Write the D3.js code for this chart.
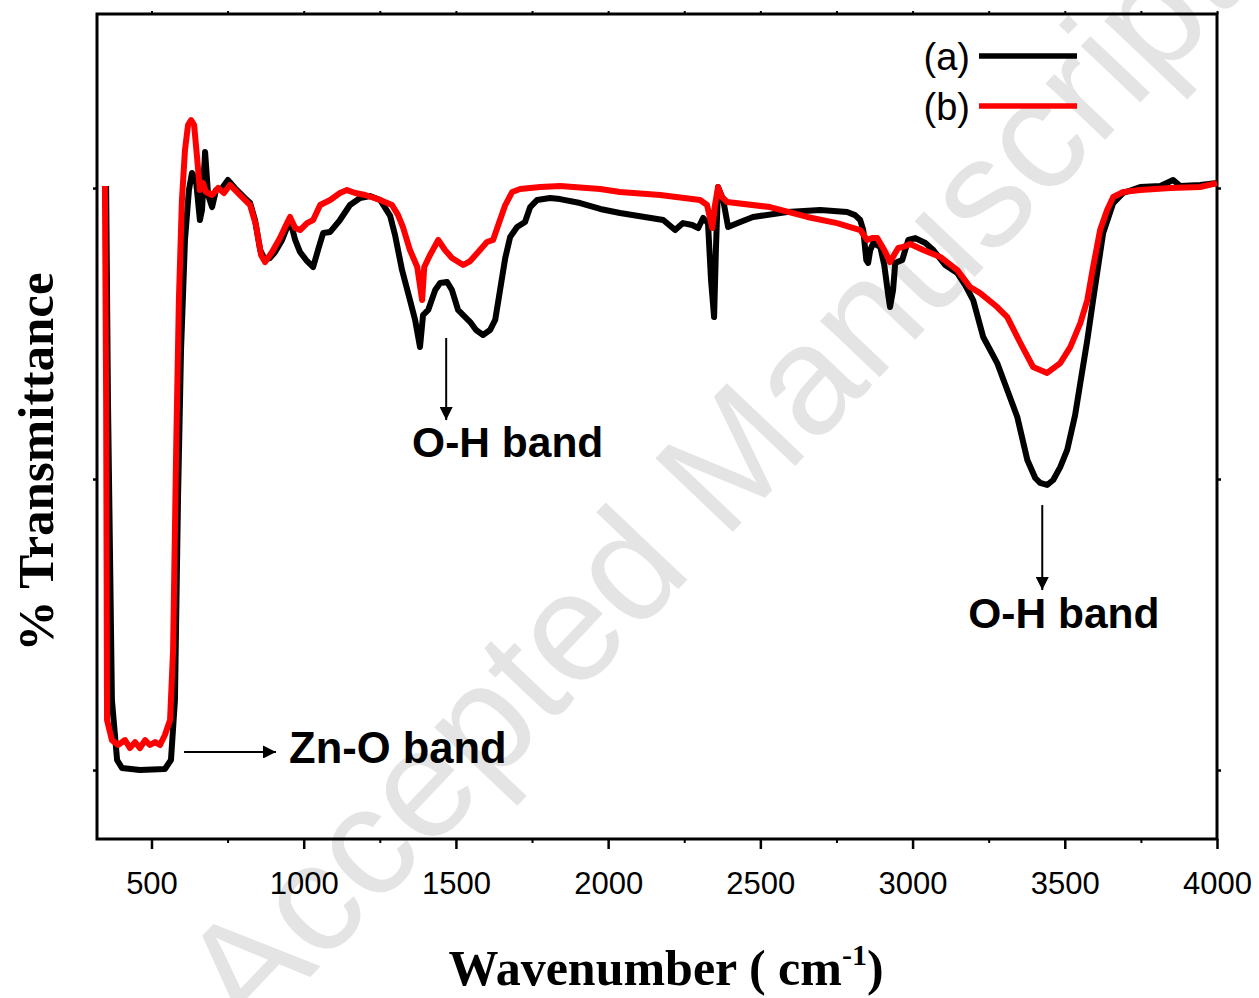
<!DOCTYPE html>
<html><head><meta charset="utf-8">
<script src="https://cdn.jsdelivr.net/npm/d3@7"></script>
<style>html,body{margin:0;padding:0;background:#fff;}svg{display:block;}</style>
</head><body>
<svg id="chart" width="1259" height="998"></svg>
<script>
// ---- data (wavenumber cm^-1, % transmittance, arbitrary offset) ----
const waveA = [351,357,370,387,403,462,544,564,577,587,597,610,623,633,646,659,666,676,686,699,712,732,751,774,807,824,840,857,873,889,906,929,955,972,988,1008,1031,1047,1064,1087,1119,1152,1185,1218,1251,1284,1300,1323,1349,1366,1382,1392,1409,1432,1448,1471,1487,1507,1524,1547,1566,1589,1612,1629,1645,1662,1678,1701,1727,1744,1767,1809,1842,1908,1974,2039,2181,2220,2246,2276,2296,2312,2328,2338,2348,2354,2361,2378,2394,2434,2476,2588,2697,2785,2811,2828,2838,2848,2854,2861,2871,2894,2907,2920,2926,2936,2943,2966,2986,3009,3042,3068,3107,3147,3173,3199,3232,3278,3311,3344,3377,3403,3419,3442,3462,3485,3508,3534,3551,3574,3593,3626,3659,3692,3748,3814,3856,3879,3945,4000];
const transA = [60.14,45.43,24.81,20.69,20.14,20.0,20.07,20.69,24.81,38.56,48.87,56.43,59.86,61.03,60.55,57.80,58.49,62.47,59.52,58.69,59.86,60.0,60.55,60.0,59.31,58.97,57.80,55.74,55.05,55.19,55.60,56.43,57.80,56.43,55.60,55.05,54.57,55.74,56.91,56.98,57.80,58.83,59.31,59.45,59.18,58.08,56.77,54.36,52.30,50.93,49.07,51.27,51.62,52.99,53.47,53.54,52.99,51.62,51.27,50.79,50.24,49.90,50.24,50.93,52.99,55.19,56.63,57.32,57.66,58.69,59.18,59.31,59.24,58.97,58.56,58.28,57.80,57.11,57.59,57.46,57.25,57.94,57.59,53.68,51.13,55.74,60.07,59.18,57.32,57.66,58.01,58.35,58.49,58.35,58.14,57.80,57.11,55.05,54.85,55.74,56.22,55.95,54.71,52.65,51.82,52.99,54.85,55.05,56.43,56.56,56.22,55.74,54.71,54.16,53.33,52.30,49.76,47.97,46.12,44.26,41.31,40.07,39.73,39.59,39.93,40.82,42.0,44.40,46.60,49.55,52.30,56.91,58.97,59.66,60.07,60.14,60.55,60.14,60.21,60.34];

const waveB = [347,351,354,370,390,413,429,446,462,479,495,512,528,544,561,571,581,590,600,610,620,630,640,649,659,669,679,699,719,738,758,791,824,843,860,873,896,922,942,955,972,988,1011,1031,1054,1087,1119,1142,1169,1202,1251,1290,1310,1326,1349,1373,1389,1396,1415,1442,1464,1487,1524,1547,1579,1602,1622,1639,1662,1685,1711,1777,1842,1974,2039,2171,2302,2325,2342,2351,2361,2374,2391,2532,2654,2752,2828,2851,2867,2884,2907,2926,2943,2953,2969,2992,3035,3091,3147,3189,3222,3278,3311,3354,3396,3442,3485,3518,3551,3574,3593,3616,3639,3659,3692,3748,3847,3945,4000];
const transB = [60.14,45.43,23.44,22.06,21.72,22.06,21.51,21.92,21.51,22.06,21.72,21.92,21.72,22.41,23.44,28.25,42.0,52.30,59.18,62.61,64.33,64.67,64.33,62.27,59.86,60.34,59.73,59.52,60.0,59.66,60.21,59.52,58.83,57.46,55.40,54.91,55.60,56.56,57.46,58.01,57.25,57.11,57.59,57.80,58.83,59.18,59.66,59.86,59.66,59.52,59.18,58.83,58.14,57.32,55.74,54.57,52.30,54.57,55.40,56.43,55.74,55.19,54.71,54.98,55.74,56.29,56.43,57.46,58.83,59.73,59.93,60.07,60.14,59.93,59.73,59.52,59.18,58.83,57.25,58.83,60.07,59.38,59.04,58.69,58.01,57.59,57.11,56.43,56.56,56.56,55.74,54.91,55.53,55.88,55.95,56.15,55.74,55.26,54.36,53.20,52.78,51.82,51.13,49.35,47.70,47.29,47.97,49.07,50.72,52.30,54.57,57.11,58.49,59.38,59.73,59.86,60.0,60.07,60.34];

const seriesNames = ["(a)", "(b)"];
const seriesColors = ["#000000", "#ff0000"];
const xTicks = [500,1000,1500,2000,2500,3000,3500,4000];
const xMinorTicks = [750,1250,1750,2250,2750,3250,3750];
const yTicks = [20,40,60];

// annotations: label, text position (cm-1, %), arrow from/to (cm-1, %)
const annotations = [
  {label:"O-H band", tx:1356, ty:41.51, ax1:1468, ay1:49.69, ax2:1468, ay2:44.05},
  {label:"O-H band", tx:3183, ty:29.76, ax1:3426, ay1:38.21, ax2:3426, ay2:32.37},
  {label:"Zn-O band", tx:952, ty:20.48, ax1:607, ay1:21.24, ax2:909, ay2:21.24}
];

const svg = d3.select("#chart");
const L=97, T=14, R=1217, B=839;
const x = d3.scaleLinear().domain([321,4000]).range([L,R]);
const y = d3.scaleLinear().domain([15.26,71.96]).range([B,T]);

// watermark
svg.append("text")
  .attr("transform","translate(718,488) rotate(-46.5)")
  .attr("text-anchor","middle").attr("dominant-baseline","middle")
  .attr("font-family","Liberation Sans, Arial, sans-serif")
  .attr("font-size",155).attr("fill","#e4e4e4")
  .text("Accepted Manuscript");

const defs = svg.append("defs");
defs.append("marker").attr("id","arr").attr("viewBox","0 0 10 10")
  .attr("refX",10).attr("refY",5).attr("markerUnits","userSpaceOnUse")
  .attr("markerWidth",28).attr("markerHeight",13).attr("orient","auto")
  .append("path").attr("d","M0,0 L10,5 L0,10 Z").attr("fill","#000");

// axes
const gx = svg.append("g").attr("transform",`translate(0,${B})`)
  .call(d3.axisBottom(x).tickValues(xTicks).tickSize(10).tickPadding(23).tickFormat(d3.format("d")));
gx.select(".domain").remove();
gx.selectAll("line").attr("stroke","#000").attr("stroke-width",2.5);
gx.selectAll("text").attr("font-family","Liberation Sans, Arial, sans-serif").attr("font-size",31).attr("fill","#000");
const gxm = svg.append("g").attr("transform",`translate(0,${B})`)
  .call(d3.axisBottom(x).tickValues(xMinorTicks).tickSize(4).tickFormat(""));
gxm.select(".domain").remove();
gxm.selectAll("line").attr("stroke","#000").attr("stroke-width",2);
const gxt = svg.append("g").attr("transform",`translate(0,${T})`)
  .call(d3.axisTop(x).tickValues(xTicks.concat(xMinorTicks)).tickSize(3).tickFormat(""));
gxt.select(".domain").remove();
gxt.selectAll("line").attr("stroke","#000").attr("stroke-width",2);

const gy = svg.append("g").attr("transform",`translate(${L},0)`)
  .call(d3.axisLeft(y).tickValues(yTicks).tickSize(4).tickFormat(""));
gy.select(".domain").remove();
gy.selectAll("line").attr("stroke","#000").attr("stroke-width",2.5);
const gyr = svg.append("g").attr("transform",`translate(${R},0)`)
  .call(d3.axisRight(y).tickValues(yTicks).tickSize(4).tickFormat(""));
gyr.select(".domain").remove();
gyr.selectAll("line").attr("stroke","#000").attr("stroke-width",2.5);

// frame
svg.append("rect").attr("x",L).attr("y",T).attr("width",R-L).attr("height",B-T)
  .attr("fill","none").attr("stroke","#000").attr("stroke-width",3);

// series
const line = d3.line().x(d=>x(d[0])).y(d=>y(d[1]));
const dataA = waveA.map((w,i)=>[w,transA[i]]);
const dataB = waveB.map((w,i)=>[w,transB[i]]);
[dataA,dataB].forEach((d,i)=>{
  svg.append("path").datum(d).attr("d",line).attr("fill","none")
    .attr("stroke",seriesColors[i]).attr("stroke-width",6)
    .attr("stroke-linejoin","round").attr("stroke-linecap","butt");
});

// legend
const legY=[56,106];
seriesNames.forEach((n,i)=>{
  svg.append("text").attr("x",970).attr("y",legY[i]+14).attr("text-anchor","end")
    .attr("font-family","Liberation Sans, Arial, sans-serif").attr("font-size",38).text(n);
  svg.append("line").attr("x1",979).attr("x2",1077).attr("y1",legY[i]).attr("y2",legY[i])
    .attr("stroke",seriesColors[i]).attr("stroke-width",5.5);
});

// annotations
annotations.forEach((a,i)=>{
  svg.append("line").attr("x1",x(a.ax1)).attr("y1",y(a.ay1)).attr("x2",x(a.ax2)).attr("y2",y(a.ay2))
    .attr("stroke","#000").attr("stroke-width",2).attr("marker-end","url(#arr)");
  svg.append("text").attr("x",x(a.tx)).attr("y",y(a.ty))
    .attr("font-family","Liberation Sans, Arial, sans-serif").attr("font-weight","bold")
    .attr("font-size",i===2?43.5:42.5).attr("fill","#000").text(a.label);
});

// axis titles
const xt = svg.append("text").attr("x",666).attr("y",985).attr("text-anchor","middle")
  .attr("font-family","Liberation Serif, Times New Roman, serif").attr("font-weight","bold").attr("font-size",50);
xt.append("tspan").text("Wavenumber ( cm");
xt.append("tspan").attr("dy",-20).attr("font-size",30).text("-1");
xt.append("tspan").attr("dy",20).text(")");

svg.append("text").attr("transform","translate(53,462) rotate(-90)").attr("text-anchor","middle")
  .attr("font-family","Liberation Serif, Times New Roman, serif").attr("font-weight","bold").attr("font-size",51)
  .text("% Transmittance");
</script>
</body></html>
